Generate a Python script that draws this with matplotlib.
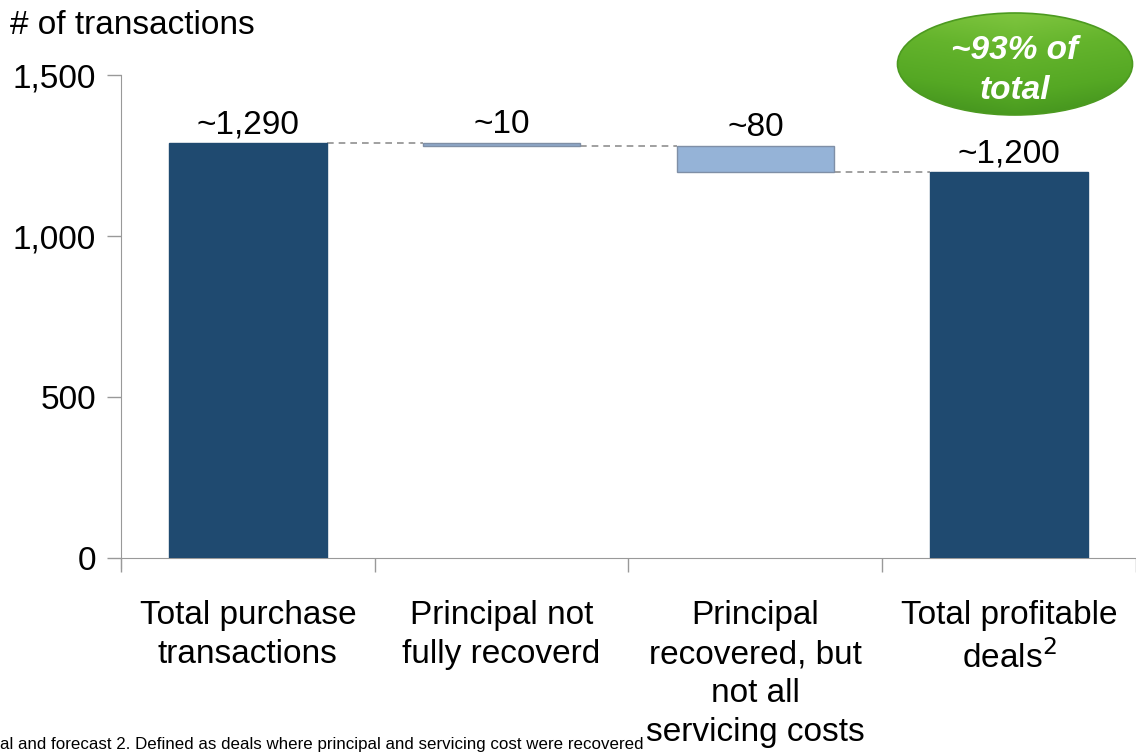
import matplotlib
matplotlib.use("Agg")
import matplotlib.pyplot as plt
import numpy as np
from matplotlib.patches import Ellipse
from matplotlib.colors import LinearSegmentedColormap

categories = ["Total purchase\ntransactions", "Principal not\nfully recoverd",
              "Principal\nrecovered, but\nnot all\nservicing costs", "Total profitable\ndeals$^2$"]
bar_bottoms = [0, 1280, 1200, 0]
bar_tops = [1290, 1290, 1280, 1200]
value_labels = ["~1,290", "~10", "~80", "~1,200"]
yticks = [0, 500, 1000, 1500]
ytick_labels = ["0", "500", "1,000", "1,500"]

plt.rcParams['font.family'] = ['Liberation Sans', 'DejaVu Sans']
FS = 24
fig = plt.figure(figsize=(11.36, 7.54), dpi=100)
ax = fig.add_axes([0.1065, 0.26, 0.8935, 0.6405])

colors = ["#1F4A70", "#8FA9C9", "#95B3D7", "#1F4A70"]
edges = ["#1F4A70", "#7F8FA6", "#7F8FA6", "#1F4A70"]
width = 0.62
for i in range(4):
    ax.bar(i, bar_tops[i] - bar_bottoms[i], bottom=bar_bottoms[i], width=width,
           color=colors[i], edgecolor=edges[i], linewidth=1, zorder=3)
    ax.text(i, bar_tops[i] + 8, value_labels[i], ha='center', va='bottom', fontsize=FS)

# connectors
conn_levels = [bar_tops[0], bar_bottoms[1], bar_bottoms[2]]
for i in range(3):
    ax.plot([i + width / 2, i + 1 - width / 2], [conn_levels[i], conn_levels[i]],
            linestyle=(0, (4, 3)), color="#909090", linewidth=1.2, zorder=2)

ax.set_xlim(-0.5, 3.5)
ax.set_yticks(yticks)
ax.set_yticklabels(ytick_labels, fontsize=FS)
ax.set_xticks([-0.5, 0.5, 1.5, 2.5, 3.5])
ax.set_xticklabels([])
ax.tick_params(axis='x', direction='out', length=10, color="#999999", width=1)
ax.tick_params(axis='y', direction='out', length=10, color="#999999", width=1, pad=8)
for s in ['top', 'right']:
    ax.spines[s].set_visible(False)
ax.spines['left'].set_color("#999999")
ax.spines['bottom'].set_color("#999999")
ax.spines['left'].set_bounds(-30, 1500)
ax.set_ylim(0, 1500)

for i, c in enumerate(categories):
    ax.text(i, -132, c, ha='center', va='top', fontsize=FS, linespacing=1.33,
            clip_on=False)

fig.text(10 / 1136, 1 - 25 / 754, "# of transactions", fontsize=FS, va='center', ha='left')

# green ellipse with gradient
cx, cy, ew, eh = 1015, 64, 235, 102
eax = fig.add_axes([(cx - ew / 2 - 2) / 1136, 1 - (cy + eh / 2 + 2) / 754,
                    (ew + 4) / 1136, (eh + 4) / 754])
eax.set_xlim(0, 1)
eax.set_ylim(0, 1)
eax.axis('off')
cmap = LinearSegmentedColormap.from_list("g", ["#3E8C1C", "#55A824", "#64B42C", "#80C640"])
yy, xx = np.mgrid[0:1:200j, 0:1:200j]
grad = yy * 0.85 + 0.15 * (1 - np.abs(xx - 0.5) * 2)
im = eax.imshow(grad, extent=[0, 1, 0, 1], origin='lower', cmap=cmap, aspect='auto')
ell = Ellipse((0.5, 0.5), ew / (ew + 4), eh / (eh + 4), transform=eax.transAxes,
              facecolor='none', edgecolor="#4C9A20", linewidth=1.2)
eax.add_patch(ell)
im.set_clip_path(ell)
eax.text(0.5, 0.44, "~93% of\ntotal", ha='center', va='center', transform=eax.transAxes,
         fontsize=FS, color='white', fontweight='bold', style='italic', linespacing=1.35)

fig.text(0, 1 - 749 / 754, "al and forecast 2. Defined as deals where principal and servicing cost were recovered",
         fontsize=12.2, ha='left', va='baseline')

fig.savefig("out.png", dpi=100)
